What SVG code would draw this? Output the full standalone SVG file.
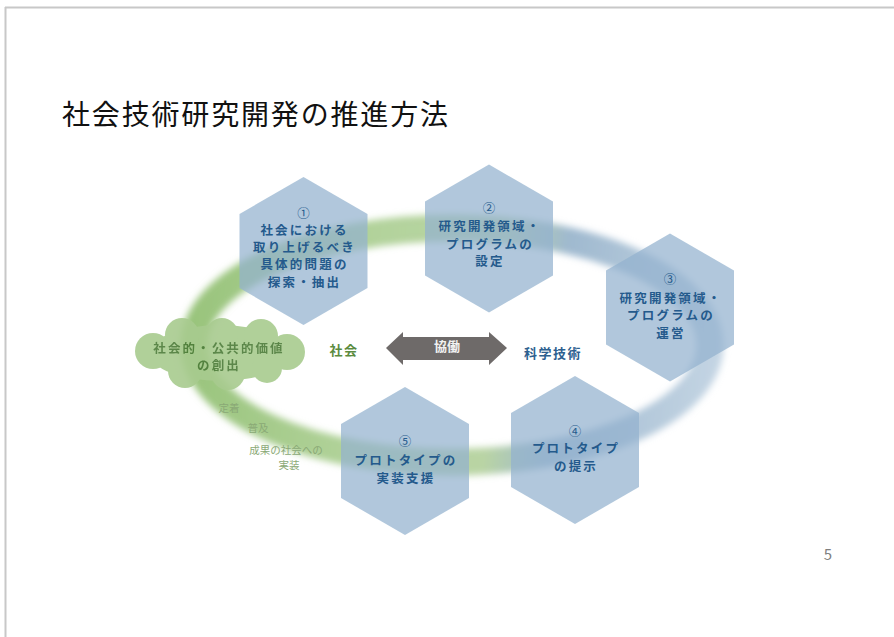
<svg xmlns="http://www.w3.org/2000/svg" width="894" height="637" viewBox="0 0 894 637">
  <style>
    .jp { font-family: "Noto Sans CJK JP", "Noto Sans", sans-serif; }
    .hex { fill: #93b1cf; fill-opacity: 0.72; }
    .ht { font-family: "Noto Sans CJK JP", sans-serif; font-size: 12.5px; font-weight: bold; fill: #245a8c; text-anchor: middle; dominant-baseline: central; letter-spacing: 2.2px; }
    .num { font-weight: normal; letter-spacing: 0; }
    .small { font-family: "Noto Sans CJK JP", sans-serif; font-size: 10.5px; fill: #8aa976; text-anchor: middle; dominant-baseline: central; }
    .cloud { fill: #a8cb8f; }
  </style>
  <defs>
    <polygon id="hexShape" points="0,-74 64,-37 64,37 0,74 -64,37 -64,-37"/>
    <linearGradient id="ringGrad" gradientUnits="userSpaceOnUse" x1="190" y1="320" x2="715" y2="370">
      <stop offset="0" stop-color="#99c47c"/>
      <stop offset="0.35" stop-color="#b3d39c"/>
      <stop offset="0.58" stop-color="#b9d4a4"/>
      <stop offset="0.7" stop-color="#9fb9cf"/>
      <stop offset="1" stop-color="#c3d4e3"/>
    </linearGradient>
    <filter id="blur" x="-20%" y="-40%" width="140%" height="180%">
      <feGaussianBlur stdDeviation="3.5"/>
    </filter>
  </defs>

  <rect x="0" y="0" width="894" height="637" fill="#ffffff"/>
  <!-- slide border -->
  <line x1="5" y1="7.5" x2="894" y2="7.5" stroke="#c8c8c8" stroke-width="2"/>
  <line x1="5.5" y1="7" x2="5.5" y2="637" stroke="#c8c8c8" stroke-width="2"/>

  <text class="jp" x="62" y="125" font-size="28" fill="#111111" textLength="386" lengthAdjust="spacing">社会技術研究開発の推進方法</text>

  <!-- ring connector -->
  <g id="connectors">
    <ellipse cx="452" cy="345" rx="258" ry="117" fill="none" stroke="url(#ringGrad)" stroke-width="27" filter="url(#blur)"/>
    <g id="arrow-collab">
      <polygon points="386,348 403,332 403,337 489,337 489,332 507,348 489,365 489,360 403,360 403,365" fill="#6e6a69"/>
      <text class="jp" x="447" y="345" font-size="13" font-weight="bold" fill="#f2f2f2" text-anchor="middle" dominant-baseline="central">協働</text>
    </g>
  </g>

  <!-- cloud -->
  <g id="cloud" opacity="0.9">
    <ellipse class="cloud" cx="220" cy="353" rx="70" ry="28"/>
    <circle class="cloud" cx="153" cy="351" r="18"/>
    <circle class="cloud" cx="287" cy="352" r="18"/>
    <circle class="cloud" cx="182" cy="335" r="17"/>
    <circle class="cloud" cx="222" cy="334" r="16"/>
    <circle class="cloud" cx="261" cy="336" r="17"/>
    <circle class="cloud" cx="185" cy="371" r="17"/>
    <circle class="cloud" cx="228" cy="373" r="17"/>
    <circle class="cloud" cx="267" cy="368" r="15"/>
    <text class="jp" x="219" y="347" font-size="12.5" font-weight="bold" fill="#4b7b37" text-anchor="middle" dominant-baseline="central" letter-spacing="2.1">社会的・公共的価値</text>
    <text class="jp" x="219" y="364" font-size="12.5" font-weight="bold" fill="#4b7b37" text-anchor="middle" dominant-baseline="central" letter-spacing="2.1">の創出</text>
  </g>

  <g id="label-shakai">
    <text class="jp" x="344" y="349" font-size="13" font-weight="bold" fill="#5b8b3e" text-anchor="middle" dominant-baseline="central" letter-spacing="1.5">社会</text>
  </g>
  <g id="label-kagaku">
    <text class="jp" x="553" y="352" font-size="13" font-weight="bold" fill="#2d5f8f" text-anchor="middle" dominant-baseline="central" letter-spacing="1.5">科学技術</text>
  </g>

  <g id="labels-small">
    <text class="small" x="229" y="407">定着</text>
    <text class="small" x="258" y="427">普及</text>
    <text class="small" x="286" y="449">成果の社会への</text>
    <text class="small" x="289" y="464">実装</text>
  </g>

  <!-- hexagon nodes -->
  <g id="node1">
    <use href="#hexShape" class="hex" transform="translate(303.5,251)"/>
    <text class="ht num" x="303.5" y="212">①</text>
    <text class="ht" x="304.5" y="229">社会における</text>
    <text class="ht" x="304.5" y="246">取り上げるべき</text>
    <text class="ht" x="304.5" y="263">具体的問題の</text>
    <text class="ht" x="304.5" y="281">探索・抽出</text>
  </g>
  <g id="node2">
    <use href="#hexShape" class="hex" transform="translate(489,238.5)"/>
    <text class="ht num" x="489" y="207">②</text>
    <text class="ht" x="490" y="225">研究開発領域・</text>
    <text class="ht" x="490" y="243">プログラムの</text>
    <text class="ht" x="490" y="260">設定</text>
  </g>
  <g id="node3">
    <use href="#hexShape" class="hex" transform="translate(670,307.5)"/>
    <text class="ht num" x="670" y="278">③</text>
    <text class="ht" x="671" y="297">研究開発領域・</text>
    <text class="ht" x="671" y="314">プログラムの</text>
    <text class="ht" x="671" y="332">運営</text>
  </g>
  <g id="node4">
    <use href="#hexShape" class="hex" transform="translate(575,450)"/>
    <text class="ht num" x="575" y="430">④</text>
    <text class="ht" x="576" y="447">プロトタイプ</text>
    <text class="ht" x="576" y="465">の提示</text>
  </g>
  <g id="node5">
    <use href="#hexShape" class="hex" transform="translate(405,461)"/>
    <text class="ht num" x="405" y="440">⑤</text>
    <text class="ht" x="406" y="459">プロトタイプの</text>
    <text class="ht" x="406" y="477">実装支援</text>
  </g>

  <text class="jp" x="828" y="553" font-size="15" fill="#7f7f7f" text-anchor="middle" dominant-baseline="central">5</text>
</svg>
